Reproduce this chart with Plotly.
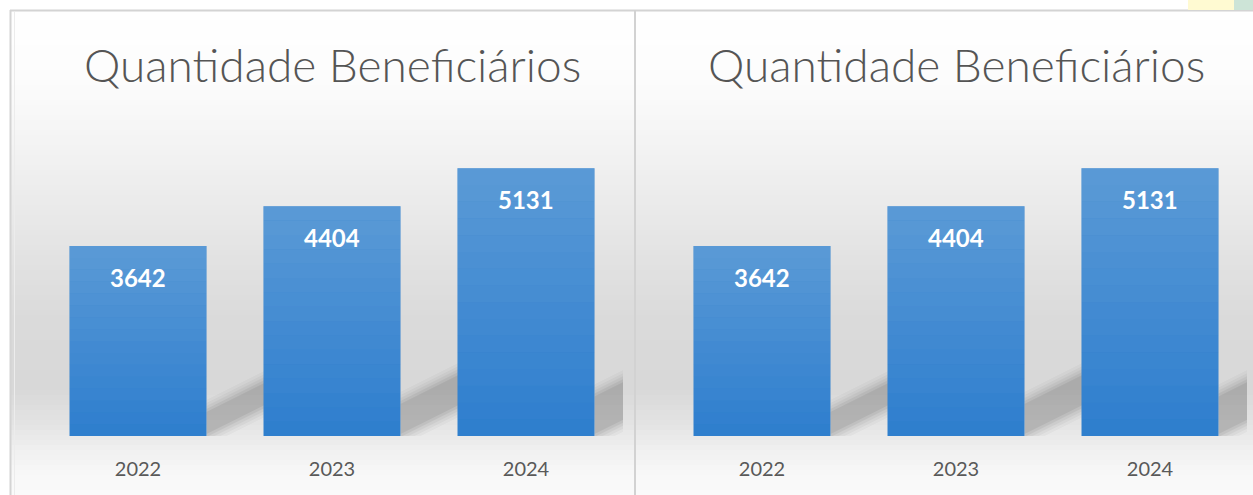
import plotly.graph_objects as go
import numpy as np

# ---------------- data ----------------
years = ["2022", "2023", "2024"]
beneficiarios = [3642, 4404, 5131]
chart_title = "Quantidade Beneficiários"

# ---------------- geometry (pixels) ----------------
W, H = 1253, 495
PLOT_TOP, PLOT_BOT = 123, 436
LEFT_DOM = (41, 623)
RIGHT_DOM = (665, 1247)
Y_MAX = 6000
BARGAP = 0.294
HALF = (1 - BARGAP) / 2

px_x = 3 / (LEFT_DOM[1] - LEFT_DOM[0])          # category units per pixel
px_y = Y_MAX / (PLOT_BOT - PLOT_TOP)              # data units per pixel


def px(x):
    return x / W


def py(y):
    return 1 - y / H


fig = go.Figure()
axes = [("x", "y"), ("x2", "y2")]
for xa, ya in axes:
    fig.add_trace(go.Bar(
        x=years, y=beneficiarios, xaxis=xa, yaxis=ya,
        marker=dict(color="rgb(46,126,206)", line=dict(width=0)),
        showlegend=False, hoverinfo="x+y",
    ))

shapes = []
# background gradient of the chart boxes
stops_y = [10, 80, 140, 200, 260, 320, 390, 425, 450, 475, 495]
stops_v = [255, 252, 244, 235, 226, 218, 216, 228, 240, 248, 250]
step = 5
for y0 in range(10, 495, step):
    v = int(round(np.interp(y0 + step / 2, stops_y, stops_v)))
    shapes.append(dict(type="rect", xref="paper", yref="paper",
                       x0=px(10), x1=1, y0=py(y0 + step), y1=py(y0),
                       fillcolor=f"rgb({v},{v},{v})", line=dict(width=0),
                       layer="below"))
# borders
shapes.append(dict(type="line", xref="paper", yref="paper", x0=px(10), x1=1,
                   y0=py(10.5), y1=py(10.5), line=dict(color="rgb(212,212,212)", width=2), layer="below"))
shapes.append(dict(type="line", xref="paper", yref="paper", x0=px(10.5), x1=px(10.5),
                   y0=0, y1=py(10), line=dict(color="rgb(212,212,212)", width=2), layer="below"))
shapes.append(dict(type="line", xref="paper", yref="paper", x0=px(14.5), x1=px(14.5),
                   y0=0, y1=py(12), line=dict(color="rgb(236,236,236)", width=1), layer="below"))
shapes.append(dict(type="line", xref="paper", yref="paper", x0=px(635), x1=px(635),
                   y0=0, y1=py(10), line=dict(color="rgb(210,210,210)", width=2), layer="below"))
# top-right corner bits
shapes.append(dict(type="rect", xref="paper", yref="paper", x0=px(1188), x1=px(1234),
                   y0=py(10), y1=1, fillcolor="rgb(255,250,210)", line=dict(width=0), layer="below"))
shapes.append(dict(type="rect", xref="paper", yref="paper", x0=px(1234), x1=1,
                   y0=py(10), y1=1, fillcolor="rgb(205,228,215)", line=dict(width=0), layer="below"))

# shadows and bar gradient overlays
for xa, ya in axes:
    for i, v in enumerate(beneficiarios):
        xr = i + HALF
        hpx = v / px_y
        w = 0.2 * hpx - 12
        s = 0.5
        L = 70
        for e, op in [(10, 0.04), (7, 0.05), (4, 0.07), (1, 0.09), (-2, 0.11)]:
            pts = [
                (xr, (-e) * px_y),
                (xr + L * px_x, (s * L - e) * px_y),
                (xr + L * px_x, (s * L + w + e) * px_y),
                (xr, (w + e) * px_y),
            ]
            path = "M " + " L ".join(f"{a:.4f},{b:.2f}" for a, b in pts) + " Z"
            shapes.append(dict(type="path", xref=xa, yref=ya, path=path,
                               fillcolor=f"rgba(80,80,80,{op})", line=dict(width=0),
                               layer="below"))
        n = 16
        for k in range(n):
            y0 = v * k / n
            y1 = v * (k + 1) / n
            op = 0.48 * (k + 0.5) / n
            shapes.append(dict(type="rect", xref=xa, yref=ya,
                               x0=i - HALF, x1=i + HALF, y0=y0, y1=y1,
                               fillcolor=f"rgba(140,185,222,{op:.3f})",
                               line=dict(width=0), layer="above"))

annotations = []
for xa, ya, dom in [("x", "y", LEFT_DOM), ("x2", "y2", RIGHT_DOM)]:
    annotations.append(dict(text=chart_title, xref=f"{xa} domain", yref="paper",
                            x=0.5, y=py(65), xanchor="center", yanchor="middle",
                            showarrow=False,
                            font=dict(family="Lato", size=46, color="#555555", weight=300)))
    for i, v in enumerate(beneficiarios):
        annotations.append(dict(text=str(v), xref=xa, yref=ya, x=i, y=v,
                                xanchor="center", yanchor="middle", yshift=-31,
                                showarrow=False,
                                font=dict(family="Lato", size=24, color="white", weight=700)))

xaxis_common = dict(type="category", range=[-0.5, 2.5], showgrid=False, zeroline=False,
                    showline=False, ticks="", ticklabelstandoff=19,
                    tickfont=dict(family="Lato", size=20, color="#595959"), fixedrange=True)
yaxis_common = dict(range=[0, Y_MAX], visible=False, fixedrange=True,
                    domain=[py(PLOT_BOT), py(PLOT_TOP)])

fig.update_layout(
    width=W, height=H,
    margin=dict(l=0, r=0, t=0, b=0),
    paper_bgcolor="white", plot_bgcolor="rgba(0,0,0,0)",
    bargap=BARGAP,
    xaxis=dict(domain=[px(LEFT_DOM[0]), px(LEFT_DOM[1])], anchor="y", **xaxis_common),
    xaxis2=dict(domain=[px(RIGHT_DOM[0]), px(RIGHT_DOM[1])], anchor="y2", **xaxis_common),
    yaxis=dict(anchor="x", **yaxis_common),
    yaxis2=dict(anchor="x2", **yaxis_common),
    shapes=shapes,
    annotations=annotations,
    showlegend=False,
)

fig.write_html("out.html")
